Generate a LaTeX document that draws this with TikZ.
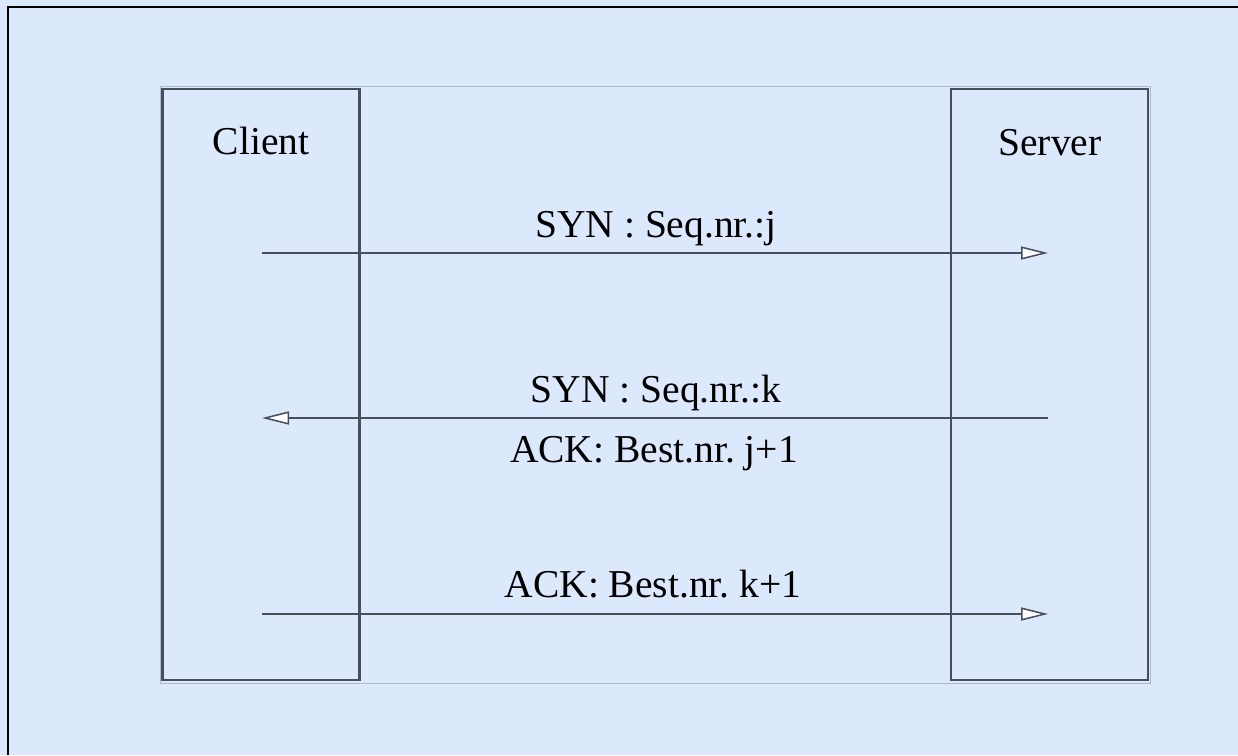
\documentclass[tikz,border=0pt]{standalone}
\usepackage{fontspec}
\setmainfont{Liberation Serif}
\frenchspacing
\usetikzlibrary{arrows.meta}
\definecolor{bg}{RGB}{220,232,252}
\definecolor{boxline}{RGB}{72,78,90}
\definecolor{frameline}{RGB}{175,185,205}
\tikzset{
  party/.style={draw=boxline, line width=2.4pt, fill=bg, minimum width=197pt, minimum height=591pt, inner sep=0pt},
  lbl/.style={font=\fontsize{39.5}{46}\selectfont, text=black, inner sep=0pt, anchor=base},
  msg/.style={draw=boxline, line width=1.6pt, -{Triangle[open, length=27pt, width=13pt, fill=white, line width=1.5pt]}},
}
\begin{document}
\begin{tikzpicture}[x=1pt,y=-1pt]
\fill[bg] (0,0) rectangle (1238,755);
\draw[black, line width=1.5pt] (8,755) -- (8,7) -- (1238,7);
\draw[frameline, line width=1pt] (160,86) rectangle (1150,683);
\node[party] (client) at (261,384.5) {};
\node[party] (server) at (1049.5,384.5) {};
\node[lbl] (clientlbl) at (261,154) {Client};
\node[lbl] (serverlbl) at (1050,155) {Server};
\coordinate (a1) at (262,253);
\coordinate (b1) at (1048,253);
\coordinate (a2) at (262,418);
\coordinate (b2) at (1048,418);
\coordinate (a3) at (262,614);
\coordinate (b3) at (1048,614);
\draw[msg] (a1) -- (b1);
\draw[msg] (b2) -- (a2);
\draw[msg] (a3) -- (b3);
\node[lbl] (m1) at (656,237) {SYN : Seq.nr.:j};
\node[lbl] (m2) at (656,402) {SYN : Seq.nr.:k};
\node[lbl] (m3) at (654,462) {ACK: Best.nr. j+1};
\node[lbl] (m4) at (653,597) {ACK: Best.nr. k+1};
\pgfresetboundingbox
\useasboundingbox (0,0) rectangle (1238,755);
\end{tikzpicture}
\end{document}
